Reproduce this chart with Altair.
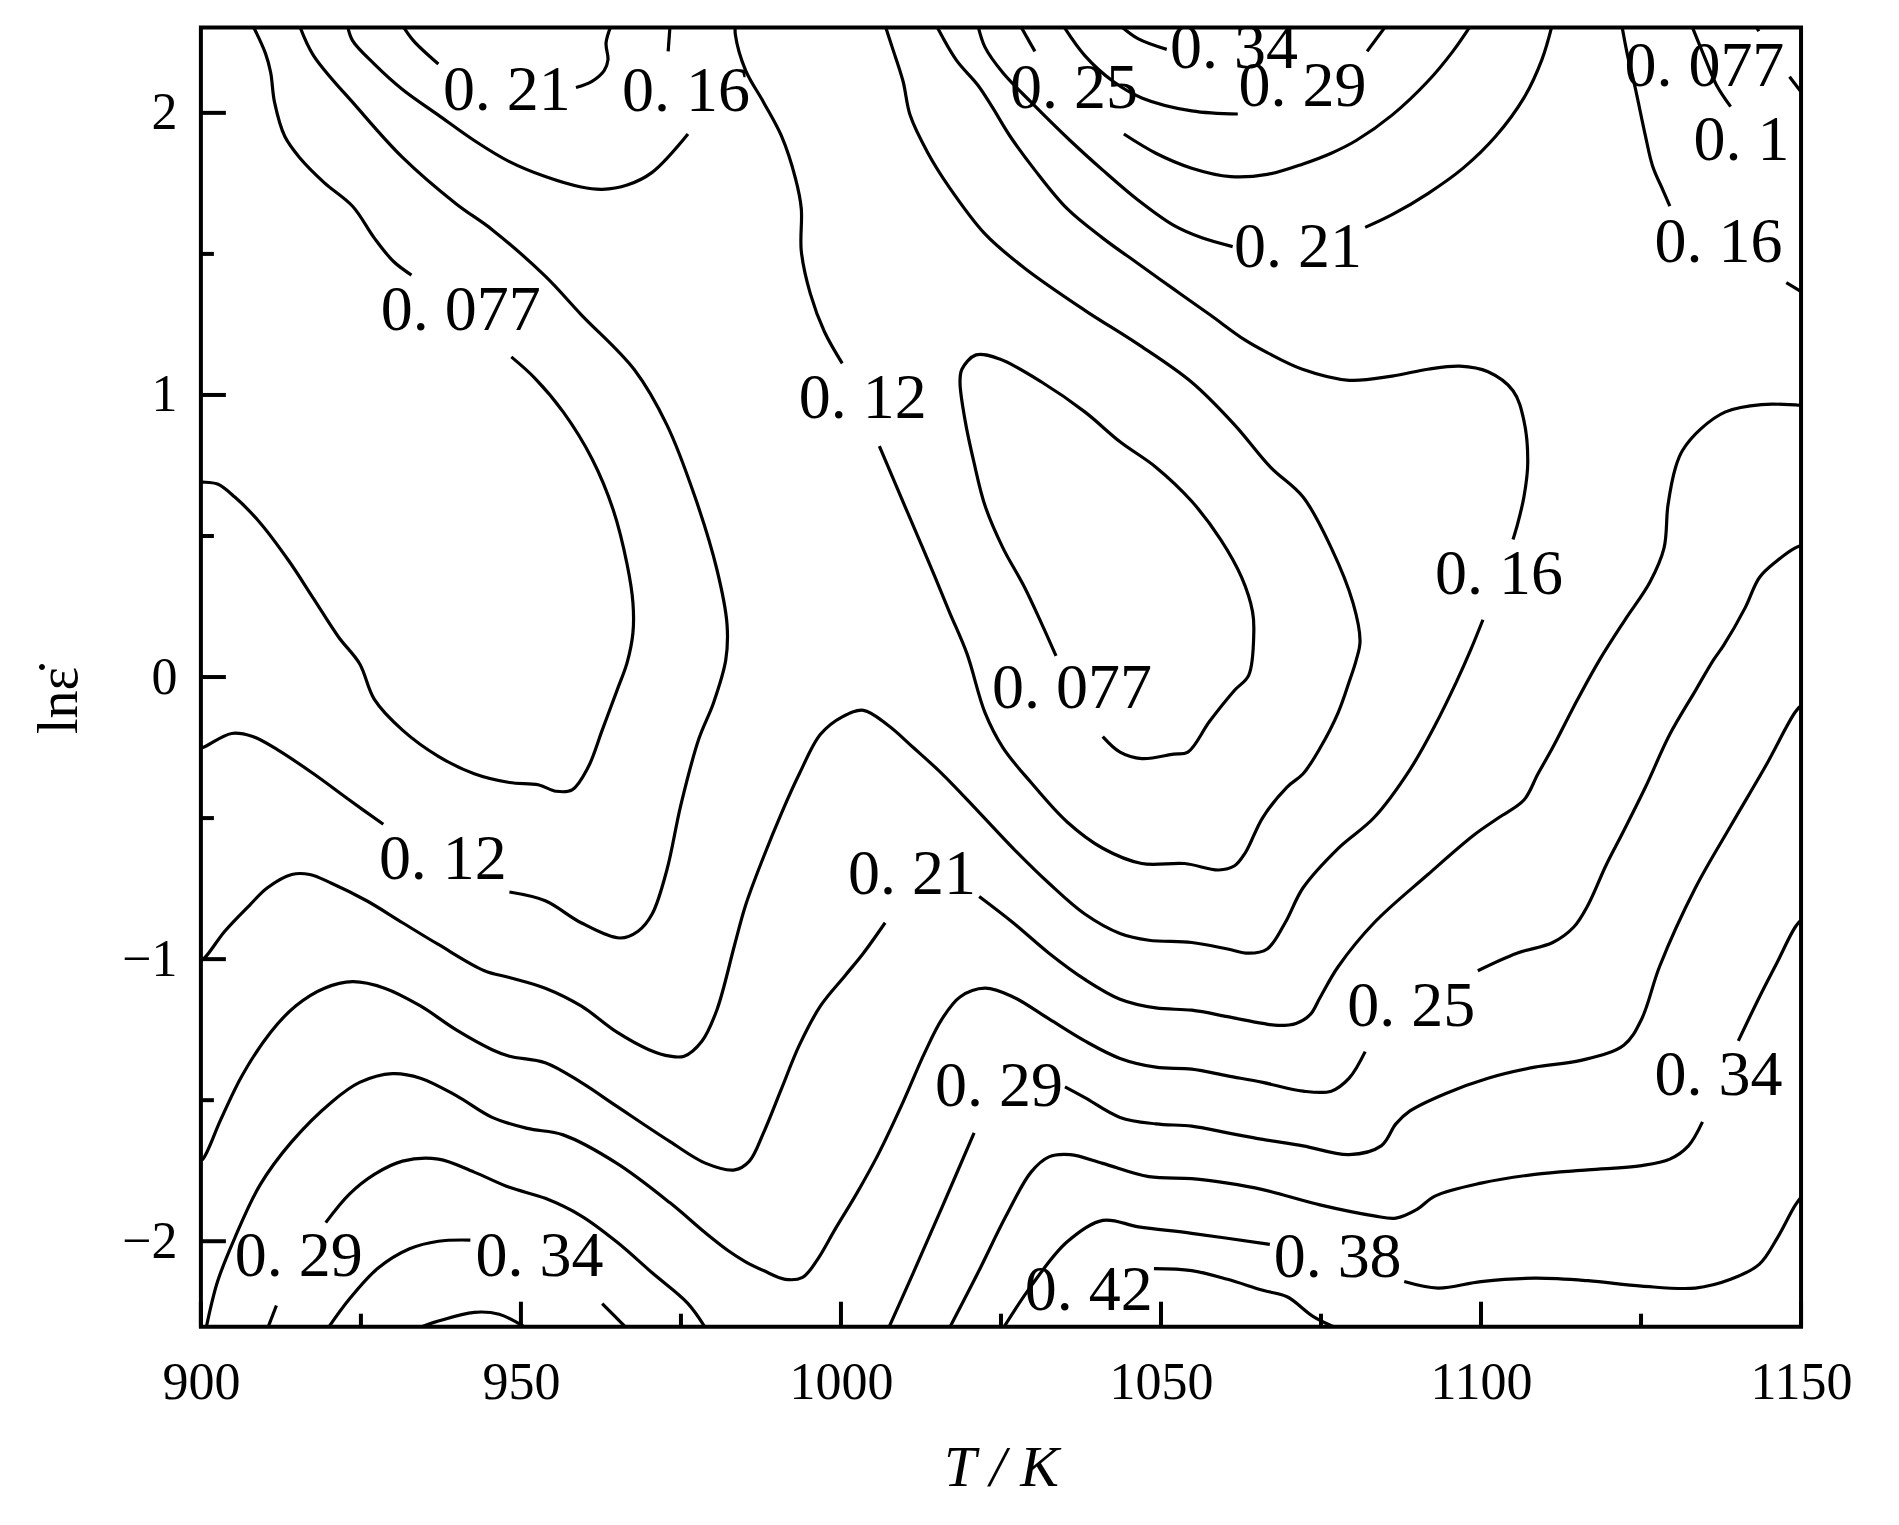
import altair as alt
import pandas as pd

# ---------------- contour line segments (T [K], ln strain rate) ----------------
c077L_a = [(908.1, 2.31), (910.1, 2.210), (910.9, 2.143), (911.5, 2.038), (913.1, 1.917), (915.4, 1.842),
           (919.3, 1.752), (923.7, 1.669), (927.1, 1.556), (930.1, 1.473), (932.9, 1.425)]
c077L_b = [(948.5, 1.135), (952.2, 1.059), (956.6, 0.940), (961.1, 0.774), (964.4, 0.594), (966.6, 0.398),
           (967.5, 0.263), (967.5, 0.157), (966.6, 0.052), (965.0, -0.048), (962.7, -0.188), (960.5, -0.320),
           (958.0, -0.400), (955.5, -0.405), (952.7, -0.382), (948.2, -0.374), (942.7, -0.343), (937.1, -0.281),
           (931.5, -0.188), (927.1, -0.079), (924.8, 0.047), (921.5, 0.142), (917.6, 0.278), (913.7, 0.413),
           (909.2, 0.548), (905.3, 0.638), (902.6, 0.684), (900.3, 0.691), (899.5, 0.691)]
c12L_a = [(915.4, 2.31), (917.6, 2.203), (924.3, 2.022), (931.5, 1.842), (939.9, 1.677), (945.5, 1.586),
          (953.8, 1.421), (959.4, 1.285), (967.7, 1.090), (972.8, 0.894), (977.2, 0.638), (980.6, 0.383),
          (982.2, 0.187), (982.0, 0.060), (980.1, -0.091), (977.8, -0.219), (975.0, -0.452), (972.8, -0.684),
          (970.5, -0.840), (968.3, -0.901), (965.5, -0.925), (959.4, -0.871), (953.8, -0.793), (948.2, -0.762)]
c12L_b = [(928.5, -0.522), (923.2, -0.436), (917.6, -0.343), (912.0, -0.258), (908.1, -0.211), (904.8, -0.200),
          (900.3, -0.250), (899.5, -0.254)]
c16TL_a = [(922.9, 2.31), (923.7, 2.256), (927.1, 2.173), (931.5, 2.083), (937.1, 1.992), (942.7, 1.902),
           (948.2, 1.827), (953.8, 1.774), (959.4, 1.737), (962.7, 1.729), (966.6, 1.744), (970.5, 1.789),
           (976.1, 1.925)]
c16TL_b = [(973.0, 2.218), (973.3, 2.31)]
c21TL_a = [(931.5, 2.31), (933.2, 2.256), (937.1, 2.173)]
c21TL_b = [(958.6, 2.090), (961.1, 2.112), (963.0, 2.150), (963.6, 2.188), (963.3, 2.248), (964.1, 2.31)]
c12M_a = [(983.5, 2.31), (983.5, 2.278), (985.1, 2.151), (987.9, 2.038), (990.7, 1.918), (992.9, 1.767),
          (993.8, 1.661), (993.8, 1.511), (995.2, 1.360), (997.4, 1.225), (1000.2, 1.112)]
c12M_b = [(1006.0, 0.819), (1010.2, 0.594), (1013.6, 0.414), (1016.9, 0.233), (1019.7, 0.082), (1022.5, -0.126),
          (1025.3, -0.250), (1029.7, -0.374), (1035.3, -0.513), (1040.9, -0.607), (1047.0, -0.661),
          (1053.7, -0.661), (1059.0, -0.684), (1061.5, -0.669), (1063.2, -0.622), (1065.9, -0.498),
          (1069.7, -0.390), (1072.2, -0.343), (1074.9, -0.250), (1077.7, -0.125), (1079.4, -0.017),
          (1080.5, 0.060), (1081.1, 0.127), (1080.0, 0.263), (1076.6, 0.458), (1072.2, 0.638), (1067.1, 0.744),
          (1061.5, 0.894), (1054.8, 1.045), (1046.4, 1.180), (1038.1, 1.300), (1028.6, 1.451), (1022.5, 1.571),
          (1016.9, 1.737), (1013.6, 1.857), (1010.8, 1.992), (1009.7, 2.112), (1008.0, 2.233), (1006.9, 2.31)]
c077I = [(1033.6, 0.075), (1031.4, 0.187), (1028.6, 0.322), (1025.3, 0.458), (1022.5, 0.608), (1020.8, 0.759),
         (1019.4, 0.909), (1018.6, 1.045), (1018.9, 1.091), (1021.1, 1.142), (1024.7, 1.128), (1031.4, 1.045),
         (1038.1, 0.940), (1043.6, 0.834), (1049.2, 0.744), (1054.8, 0.623), (1059.3, 0.488), (1062.6, 0.353),
         (1064.3, 0.232), (1064.5, 0.157), (1063.7, 0.006), (1061.5, -0.047), (1057.6, -0.157), (1054.2, -0.266),
         (1052.0, -0.273), (1047.0, -0.289), (1043.6, -0.266), (1040.9, -0.211)]
c16_a = [(1014.9, 2.31), (1018.0, 2.188), (1021.4, 2.098), (1023.6, 2.022), (1026.4, 1.918), (1030.3, 1.797),
         (1035.3, 1.661), (1040.9, 1.556), (1046.4, 1.466), (1052.0, 1.375), (1057.6, 1.285), (1063.1, 1.195),
         (1066.6, 1.150), (1072.1, 1.091), (1079.4, 1.052), (1086.1, 1.067), (1091.7, 1.091), (1096.7, 1.102),
         (1101.1, 1.082), (1105.0, 1.015), (1106.7, 0.909), (1107.3, 0.759), (1106.7, 0.638), (1105.6, 0.533),
         (1105.0, 0.488)]
c16_b = [(1100.3, 0.203), (1098.4, 0.097), (1096.1, -0.020), (1092.8, -0.172), (1088.9, -0.328), (1083.3, -0.498),
         (1077.7, -0.607), (1072.2, -0.747), (1069.4, -0.871), (1066.6, -0.964), (1063.7, -0.979),
         (1060.4, -0.964), (1054.8, -0.941), (1048.1, -0.933), (1043.6, -0.909), (1038.1, -0.840),
         (1032.5, -0.731), (1026.9, -0.607), (1021.4, -0.475), (1015.8, -0.343), (1011.3, -0.250),
         (1007.4, -0.172), (1003.5, -0.118), (1000.2, -0.141), (996.8, -0.203), (993.5, -0.343), (990.7, -0.483),
         (987.9, -0.638), (985.1, -0.809), (983.4, -0.948), (980.6, -1.181), (978.3, -1.290), (975.5, -1.344),
         (973.3, -1.344), (970.0, -1.321), (965.0, -1.259), (959.4, -1.166), (953.8, -1.103), (948.2, -1.065),
         (944.3, -1.041), (937.1, -0.948), (931.5, -0.871), (925.9, -0.793), (920.4, -0.731), (917.0, -0.700),
         (914.2, -0.700), (910.4, -0.747), (907.6, -0.809), (903.7, -0.902), (900.6, -0.995), (899.5, -1.012)]
c21U_a = [(1021.4, 2.31), (1022.5, 2.233), (1025.3, 2.142), (1029.7, 2.038), (1035.8, 1.902), (1040.9, 1.797),
          (1046.4, 1.691), (1052.0, 1.601), (1056.5, 1.556), (1061.2, 1.526)]
c21U_b = [(1081.9, 1.594), (1086.1, 1.639), (1091.7, 1.714), (1097.2, 1.804), (1102.3, 1.917), (1106.7, 2.053),
          (1109.5, 2.188), (1111.1, 2.31)]
c25U_a = [(1028.0, 2.31), (1030.3, 2.218)]
c25U_b = [(1044.2, 1.925), (1049.2, 1.857), (1054.8, 1.804), (1060.9, 1.774), (1066.6, 1.782), (1072.2, 1.819),
          (1076.6, 1.857), (1080.5, 1.902), (1086.1, 1.992), (1091.7, 2.112), (1095.6, 2.218), (1098.4, 2.31)]
c29U_a = [(1034.7, 2.31), (1038.1, 2.203), (1042.5, 2.112), (1047.0, 2.053), (1054.8, 2.007), (1062.0, 1.996)]
c29U_b = [(1082.2, 2.218), (1085.2, 2.31)]
c34U = [(1043.6, 2.31), (1046.4, 2.263), (1050.9, 2.225)]
c16TR_a = [(1122.0, 2.31), (1122.9, 2.203), (1124.0, 2.098), (1125.7, 1.917), (1126.8, 1.812), (1128.5, 1.722),
           (1129.5, 1.669)]
c16TR_b = [(1147.7, 1.398), (1150.5, 1.36)]
c12TR = [(1132.9, 2.31), (1135.1, 2.188), (1136.8, 2.098), (1139.0, 2.022)]
c077TR_a = [(1142.9, 2.31), (1143.4, 2.289)]
c077TR_b = [(1148.2, 2.128), (1150.5, 2.06)]
c21L_a = [(899.5, -1.72), (900.3, -1.709), (903.1, -1.569), (906.4, -1.414), (910.9, -1.259), (914.8, -1.166),
          (919.3, -1.103), (923.7, -1.080), (928.7, -1.103), (934.3, -1.166), (939.9, -1.251), (945.5, -1.321),
          (948.2, -1.344), (953.8, -1.367), (959.4, -1.437), (965.0, -1.522), (973.3, -1.647), (978.9, -1.724),
          (983.4, -1.747), (985.7, -1.716), (987.9, -1.616), (990.7, -1.460), (993.5, -1.305), (996.8, -1.166),
          (1000.7, -1.057), (1003.5, -0.979), (1006.9, -0.871)]
c21L_b = [(1021.6, -0.778), (1026.9, -0.871), (1032.5, -0.979), (1038.1, -1.072), (1043.6, -1.142),
          (1049.2, -1.173), (1054.8, -1.181), (1060.4, -1.204), (1065.9, -1.228), (1068.3, -1.235),
          (1071.1, -1.228), (1073.3, -1.197), (1074.9, -1.134), (1077.7, -1.026), (1083.3, -0.871),
          (1091.7, -0.700), (1098.9, -0.560), (1102.8, -0.498), (1106.7, -0.436), (1108.9, -0.343),
          (1111.2, -0.250), (1115.1, -0.079), (1118.5, 0.060), (1122.5, 0.203), (1126.4, 0.337), (1128.6, 0.458),
          (1129.2, 0.608), (1130.4, 0.744), (1131.5, 0.804), (1134.3, 0.879), (1138.2, 0.940), (1143.8, 0.966),
          (1150.5, 0.962)]
c25L_a = [(900.8, -2.31), (902.6, -2.143), (905.3, -1.988), (909.2, -1.802), (914.2, -1.647), (920.4, -1.507),
          (924.8, -1.437), (929.9, -1.406), (934.3, -1.422), (939.9, -1.484), (945.5, -1.561), (951.0, -1.600),
          (956.6, -1.623), (965.0, -1.724), (973.3, -1.864), (978.9, -1.972), (982.4, -2.034), (985.1, -2.073),
          (987.9, -2.104), (991.3, -2.135), (994.0, -2.128), (996.3, -2.066), (999.1, -1.957), (1002.4, -1.833),
          (1005.8, -1.693), (1009.7, -1.507), (1013.0, -1.336), (1015.8, -1.212), (1018.6, -1.134),
          (1022.5, -1.103), (1026.9, -1.134), (1032.5, -1.212), (1038.1, -1.290), (1043.6, -1.352),
          (1049.2, -1.383), (1054.8, -1.390), (1060.4, -1.414), (1065.9, -1.437), (1072.2, -1.468),
          (1076.6, -1.468), (1079.4, -1.422), (1081.9, -1.328)]
c25L_b = [(1099.5, -1.041), (1105.6, -0.979), (1111.2, -0.941), (1114.5, -0.886), (1116.7, -0.809),
          (1119.5, -0.669), (1122.3, -0.545), (1125.7, -0.390), (1129.5, -0.203), (1133.5, -0.048),
          (1136.3, 0.060), (1137.9, 0.112), (1141.3, 0.247), (1143.5, 0.353), (1146.3, 0.413), (1149.1, 0.458),
          (1150.5, 0.47)]
c29LL_a = [(910.4, -2.31), (911.8, -2.228)]
c29LL_b = [(919.5, -1.934), (923.2, -1.833), (927.1, -1.763), (931.5, -1.716), (937.1, -1.709), (942.7, -1.755),
           (948.2, -1.809), (953.8, -1.848), (959.4, -1.910), (965.0, -2.003), (970.5, -2.112), (976.1, -2.221),
           (978.9, -2.31)]
c34LL_a = [(919.8, -2.31), (923.2, -2.205), (927.6, -2.097), (932.6, -2.027), (937.1, -2.000), (942.1, -1.996)]
c34LL_b = [(962.7, -2.221), (966.6, -2.31)]
c38LL = [(933.7, -2.31), (937.1, -2.283), (942.7, -2.252), (946.6, -2.259), (951.0, -2.31)]
c29Lo_a = [(1007.4, -2.31), (1011.3, -2.112), (1015.8, -1.879), (1020.8, -1.616)]
c29Lo_b = [(1035.0, -1.453), (1038.1, -1.491), (1043.6, -1.561), (1049.2, -1.584), (1054.8, -1.592),
           (1060.4, -1.616), (1065.9, -1.639), (1072.2, -1.662), (1079.4, -1.693), (1084.4, -1.662),
           (1086.7, -1.584), (1088.9, -1.538), (1094.5, -1.476), (1101.1, -1.422), (1108.4, -1.383),
           (1115.6, -1.359), (1122.3, -1.305), (1125.1, -1.212), (1127.9, -1.026), (1133.5, -0.747),
           (1139.0, -0.528), (1144.6, -0.310), (1149.1, -0.124), (1150.5, -0.09)]
c34Lo_a = [(1016.9, -2.31), (1021.4, -2.112), (1025.8, -1.910), (1029.7, -1.755), (1032.5, -1.701),
           (1035.8, -1.693), (1040.9, -1.724), (1048.1, -1.771), (1054.8, -1.778), (1060.4, -1.794),
           (1065.9, -1.817), (1075.0, -1.872), (1083.3, -1.910), (1086.7, -1.918), (1090.0, -1.887),
           (1092.8, -1.840), (1100.0, -1.794), (1108.4, -1.763), (1116.7, -1.747), (1125.1, -1.732),
           (1129.5, -1.709), (1132.4, -1.662), (1134.6, -1.577)]
c34Lo_b = [(1140.2, -1.290), (1143.5, -1.134), (1146.3, -1.010), (1149.1, -0.886), (1150.5, -0.85)]
c38Lo_a = [(1025.3, -2.31), (1029.7, -2.159), (1035.3, -2.003), (1040.9, -1.926), (1046.5, -1.949),
           (1054.8, -1.972), (1067.0, -2.011)]
c38Lo_b = [(1088.0, -2.143), (1093.3, -2.166), (1100.0, -2.143), (1108.4, -2.131), (1116.7, -2.140),
           (1125.1, -2.159), (1133.5, -2.166), (1139.0, -2.135), (1143.5, -2.081), (1146.3, -1.988),
           (1149.1, -1.872), (1150.5, -1.83)]
c42 = [(1048.9, -2.097), (1054.8, -2.104), (1060.4, -2.135), (1065.9, -2.174), (1069.7, -2.197),
       (1073.8, -2.267), (1077.7, -2.31)]

# ---------------- contour labels ----------------
lab_T = [947.8, 975.8, 940.6, 1003.4, 1036.4, 1061.4, 1072.1, 1071.4, 1134.9, 1140.7, 1137.1,
         1102.8, 1036.1, 937.8, 1011.1, 1089.1, 1024.7, 1137.1, 915.3, 952.9, 1077.6, 1038.7]
lab_L = [2.078, 2.073, 1.297, 0.987, 2.086, 2.228, 2.090, 1.522, 2.164, 1.901, 1.539,
         0.362, -0.043, -0.647, -0.703, -1.168, -1.453, -1.414, -2.056, -2.056, -2.060, -2.177]
lab_text = ["0. 21", "0. 16", "0. 077", "0. 12", "0. 25", "0. 34", "0. 29", "0. 21", "0. 077", "0. 1", "0. 16",
            "0. 16", "0. 077", "0. 12", "0. 21", "0. 25", "0. 29", "0. 34", "0. 29", "0. 34", "0. 38", "0. 42"]

# ---------------- axis ticks ----------------
x_major = [900, 950, 1000, 1050, 1100, 1150]
x_minor = [925, 975, 1025, 1075, 1125]
y_major = [-2, -1, 0, 1, 2]
y_minor = [-1.5, -0.5, 0.5, 1.5]

segments = [
    ("c077L_a", c077L_a), ("c077L_b", c077L_b), ("c12L_a", c12L_a), ("c12L_b", c12L_b),
    ("c16TL_a", c16TL_a), ("c16TL_b", c16TL_b), ("c21TL_a", c21TL_a), ("c21TL_b", c21TL_b),
    ("c12M_a", c12M_a), ("c12M_b", c12M_b), ("c077I", c077I), ("c16_a", c16_a), ("c16_b", c16_b),
    ("c21U_a", c21U_a), ("c21U_b", c21U_b), ("c25U_a", c25U_a), ("c25U_b", c25U_b),
    ("c29U_a", c29U_a), ("c29U_b", c29U_b), ("c34U", c34U), ("c16TR_a", c16TR_a), ("c16TR_b", c16TR_b),
    ("c12TR", c12TR), ("c077TR_a", c077TR_a), ("c077TR_b", c077TR_b), ("c21L_a", c21L_a), ("c21L_b", c21L_b),
    ("c25L_a", c25L_a), ("c25L_b", c25L_b), ("c29LL_a", c29LL_a), ("c29LL_b", c29LL_b),
    ("c34LL_a", c34LL_a), ("c34LL_b", c34LL_b), ("c38LL", c38LL), ("c29Lo_a", c29Lo_a), ("c29Lo_b", c29Lo_b),
    ("c34Lo_a", c34Lo_a), ("c34Lo_b", c34Lo_b), ("c38Lo_a", c38Lo_a), ("c38Lo_b", c38Lo_b), ("c42", c42),
]

rows = []
for name, pts in segments:
    for i, (t, l) in enumerate(pts):
        rows.append({"seg": name, "idx": i, "T": t, "L": l})
df_lines = pd.DataFrame(rows)
df_labels = pd.DataFrame({"T": lab_T, "L": lab_L, "text": lab_text})

W, H = 1601, 1300
SERIF = "Liberation Serif"

xscale = alt.Scale(domain=[900, 1150], nice=False, zero=False)
yscale = alt.Scale(domain=[-2.303, 2.303], nice=False, zero=False)

xaxis = alt.Axis(values=x_major, format="d", grid=False, ticks=False, tickSize=0, domain=False,
                 labelFont=SERIF, labelFontSize=52, labelColor="black", labelPadding=31,
                 labelFlush=False, labelOverlap=False,
                 title="T / K", titleFont=SERIF, titleFontSize=58, titleFontStyle="italic",
                 titleFontWeight="normal", titleColor="black", titleY=159, titleBaseline="alphabetic")
yaxis = alt.Axis(values=y_major, format="d", grid=False, ticks=False, tickSize=0, domain=False,
                 labelFont=SERIF, labelFontSize=52, labelColor="black", labelPadding=24,
                 labelFlush=False, labelOverlap=False,
                 title="ln\u03b5\u0307", titleFont=SERIF, titleFontSize=56, titleFontWeight="normal",
                 titleColor="black", titleX=-141, titleY=673, titleAngle=270, titleAlign="center",
                 titleBaseline="middle")

lines = alt.Chart(df_lines).mark_line(color="black", strokeWidth=3.2, clip=True,
                                      interpolate="catmull-rom").encode(
    x=alt.X("T:Q", scale=xscale, axis=xaxis),
    y=alt.Y("L:Q", scale=yscale, axis=yaxis),
    detail="seg:N",
    order="idx:Q",
)

xmaj = alt.Chart(pd.DataFrame({"T": x_major})).mark_rule(color="black", strokeWidth=4).encode(
    x=alt.X("T:Q", scale=xscale, axis=xaxis), y=alt.value(H), y2=alt.value(H - 25))
xmin = alt.Chart(pd.DataFrame({"T": x_minor})).mark_rule(color="black", strokeWidth=4).encode(
    x=alt.X("T:Q", scale=xscale, axis=xaxis), y=alt.value(H), y2=alt.value(H - 13))
ymaj = alt.Chart(pd.DataFrame({"L": y_major})).mark_rule(color="black", strokeWidth=4).encode(
    y=alt.Y("L:Q", scale=yscale, axis=yaxis), x=alt.value(0), x2=alt.value(25))
ymin = alt.Chart(pd.DataFrame({"L": y_minor})).mark_rule(color="black", strokeWidth=4).encode(
    y=alt.Y("L:Q", scale=yscale, axis=yaxis), x=alt.value(0), x2=alt.value(13))

labels = alt.Chart(df_labels).mark_text(font=SERIF, fontSize=64, color="black", align="center",
                                        baseline="middle").encode(
    x=alt.X("T:Q", scale=xscale, axis=xaxis),
    y=alt.Y("L:Q", scale=yscale, axis=yaxis),
    text="text:N",
)

chart = alt.layer(lines, xmaj, xmin, ymaj, ymin, labels).properties(
    width=W, height=H,
    autosize=alt.AutoSizeParams(type="none"),
    padding={"left": 193, "top": 19, "right": 90, "bottom": 180},
    background="white",
).configure_view(stroke="black", strokeWidth=4)

chart.save("out.html", embed_options={"renderer": "svg", "actions": False})
